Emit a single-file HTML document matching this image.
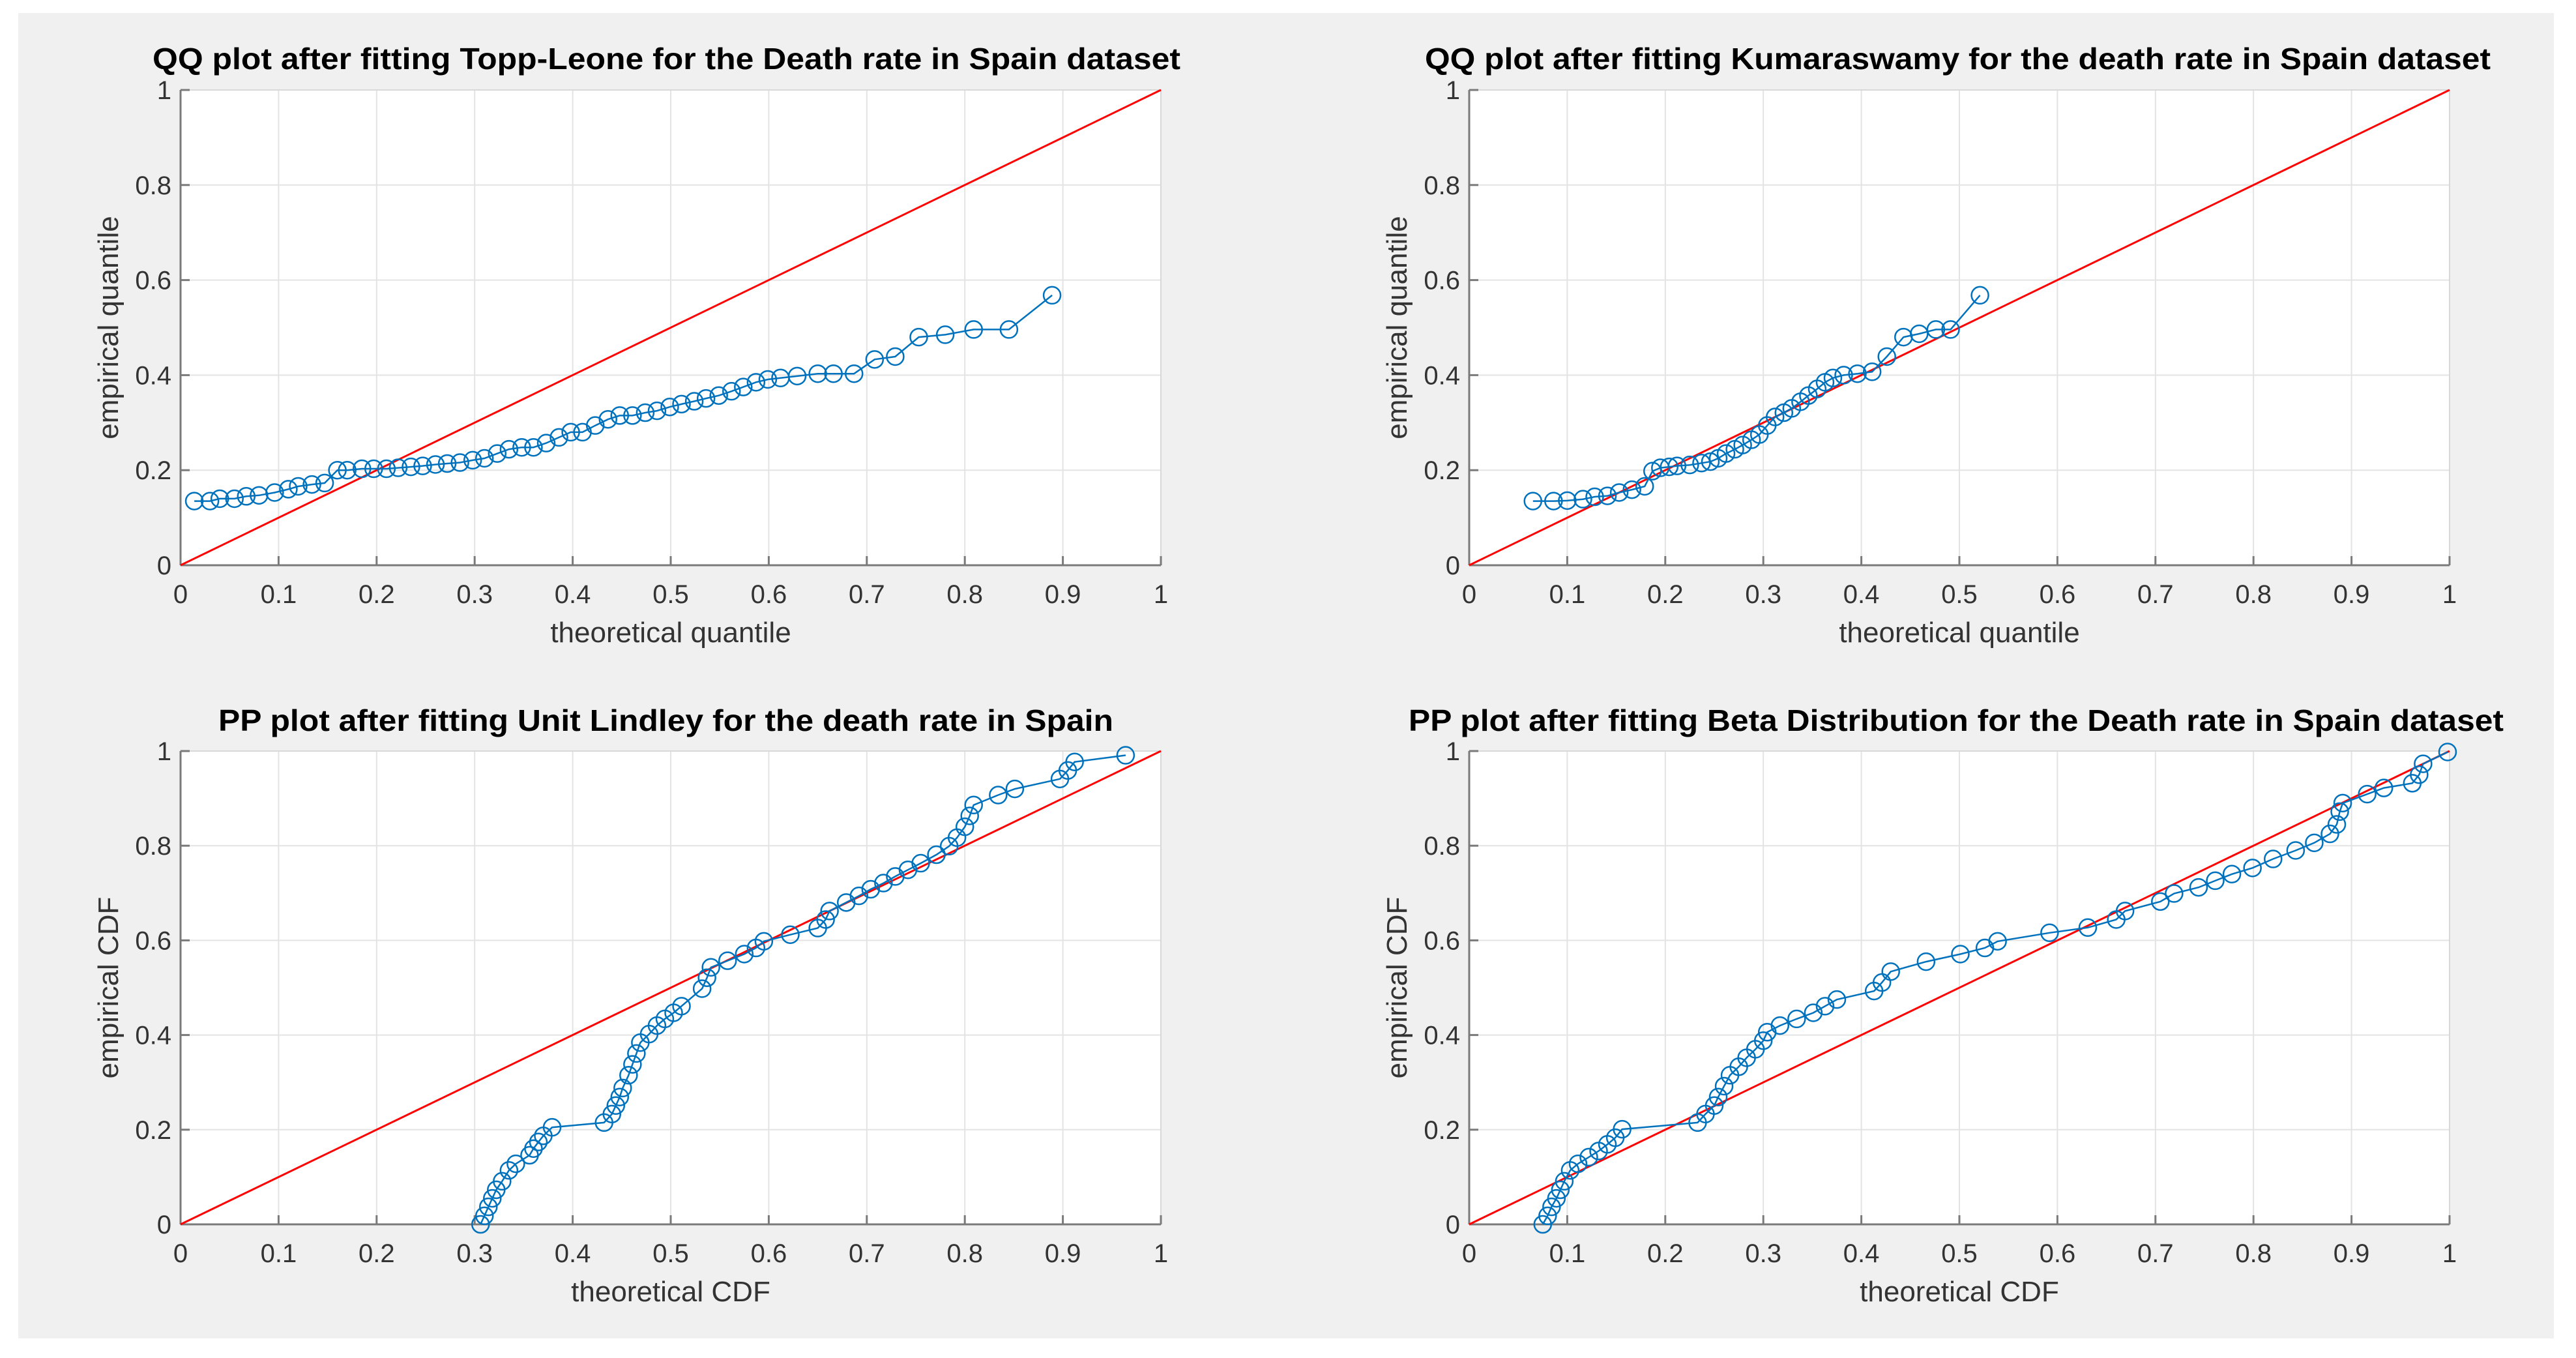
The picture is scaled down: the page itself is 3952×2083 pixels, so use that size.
<!DOCTYPE html>
<html><head><meta charset="utf-8"><style>
html,body{margin:0;padding:0;background:#fff;}
svg{display:block;}
</style></head><body>
<svg id="fig" width="3952" height="2083" viewBox="0 0 3952 2083" xmlns="http://www.w3.org/2000/svg">
<rect x="0" y="0" width="3952" height="2083" fill="#ffffff"/>
<rect x="28" y="20" width="3890" height="2033" fill="#f0f0f0"/>
</svg>
<script>
const ticks = [0,0.1,0.2,0.3,0.4,0.5,0.6,0.7,0.8,0.9,1];
const tickLabels = ["0","0.1","0.2","0.3","0.4","0.5","0.6","0.7","0.8","0.9","1"];
const yTicks = [0,0.2,0.4,0.6,0.8,1];
const yTickLabels = ["0","0.2","0.4","0.6","0.8","1"];

const toppX = [.014,.03,.04,.055,.067,.08,.096,.11,.12,.134,.147,.16,.17,.185,.197,.21,.222,.235,.247,.26,.272,.285,.298,.31,.323,.335,.348,.36,.373,.386,.398,.41,.423,.436,.448,.461,.474,.486,.499,.511,.524,.536,.549,.562,.574,.587,.599,.612,.629,.65,.666,.687,.708,.729,.753,.78,.809,.845,.889];
const toppY = [.135,.135,.14,.14,.145,.147,.153,.16,.166,.17,.173,.2,.2,.203,.203,.203,.205,.207,.209,.212,.214,.216,.221,.225,.235,.244,.248,.248,.257,.269,.28,.28,.294,.307,.315,.315,.321,.325,.333,.339,.345,.351,.357,.366,.375,.385,.391,.394,.398,.403,.403,.403,.433,.439,.48,.485,.496,.496,.568];

const kumX = [.065,.086,.1,.116,.128,.141,.153,.166,.179,.187,.195,.204,.212,.225,.237,.246,.254,.262,.271,.279,.288,.296,.304,.312,.321,.329,.338,.346,.355,.363,.371,.382,.396,.411,.426,.443,.459,.476,.491,.521];
const kumY = [.135,.135,.136,.139,.144,.146,.153,.159,.166,.198,.205,.207,.209,.211,.215,.218,.225,.235,.244,.253,.264,.275,.294,.312,.321,.33,.344,.357,.371,.385,.394,.4,.403,.407,.439,.48,.487,.496,.496,.568];

const lindX = [.306,.31,.314,.318,.322,.328,.335,.342,.356,.36,.365,.37,.379,.432,.44,.444,.448,.451,.457,.461,.465,.469,.478,.486,.494,.503,.511,.532,.537,.541,.558,.575,.587,.595,.622,.65,.658,.662,.679,.692,.704,.717,.729,.742,.755,.771,.784,.792,.8,.805,.809,.834,.851,.897,.905,.912,.964];
const lindY = [0,.018,.037,.055,.073,.091,.114,.128,.146,.16,.174,.187,.205,.215,.233,.251,.269,.288,.315,.338,.361,.384,.402,.42,.434,.447,.461,.498,.521,.543,.557,.571,.584,.598,.612,.626,.644,.662,.68,.694,.708,.721,.735,.749,.763,.781,.799,.817,.84,.863,.886,.907,.92,.941,.959,.977,.991];

const betaX = [.075,.08,.084,.089,.093,.097,.103,.111,.122,.132,.141,.149,.156,.233,.241,.25,.254,.26,.266,.275,.283,.292,.3,.304,.317,.334,.351,.363,.375,.413,.421,.43,.466,.501,.526,.539,.592,.631,.66,.669,.705,.719,.744,.761,.778,.799,.82,.843,.862,.878,.885,.888,.891,.916,.933,.962,.969,.973,.998];
const betaY = [0,.018,.037,.055,.073,.091,.114,.128,.142,.155,.169,.183,.201,.215,.233,.251,.269,.292,.315,.333,.352,.37,.388,.406,.42,.434,.447,.461,.475,.493,.511,.534,.555,.571,.584,.598,.616,.627,.644,.662,.682,.699,.712,.726,.74,.753,.772,.79,.806,.825,.845,.872,.89,.909,.922,.932,.95,.973,.998];

const NS='http://www.w3.org/2000/svg';
const svg=document.getElementById('fig');
function mk(tag,attrs,parent){const e=document.createElementNS(NS,tag);for(const k in attrs)e.setAttribute(k,attrs[k]);(parent||svg).appendChild(e);return e;}

const panels=[
 {id:'topp',x0:277,x1:1781,y0:138,y1:867,title:'QQ plot after fitting Topp-Leone  for the Death rate in Spain dataset',tx0:234,tx1:1811,ty:106,xl:'theoretical quantile',yl:'empirical quantile',X:toppX,Y:toppY},
 {id:'kum',x0:2254,x1:3758,y0:138,y1:867,title:'QQ plot after fitting Kumaraswamy  for the death rate in Spain dataset',tx0:2186,tx1:3821,ty:106,xl:'theoretical quantile',yl:'empirical quantile',X:kumX,Y:kumY},
 {id:'lindley',x0:277,x1:1781,y0:1152,y1:1878,title:'PP plot after fitting Unit Lindley  for the death rate in Spain',tx0:335,tx1:1708,ty:1121,xl:'theoretical CDF',yl:'empirical CDF',X:lindX,Y:lindY},
 {id:'beta',x0:2254,x1:3758,y0:1152,y1:1878,title:'PP plot after fitting Beta Distribution  for the Death rate in Spain dataset',tx0:2161,tx1:3841,ty:1121,xl:'theoretical CDF',yl:'empirical CDF',X:betaX,Y:betaY}
];

panels.forEach(p=>{
 const g=mk('g',{});
 
 
 const sx=v=>p.x0+v*(p.x1-p.x0);
 const sy=v=>p.y1-v*(p.y1-p.y0);
 const bg=mk('rect',{x:p.x0,y:p.y0,width:p.x1-p.x0,height:p.y1-p.y0,fill:'#ffffff'},g);
 
 
 ticks.forEach(t=>{
  const l=mk('line',{x1:sx(t),x2:sx(t),y1:p.y0,y2:p.y1,stroke:'#e3e3e3','stroke-width':2},g);
  
  
 });
 yTicks.forEach(t=>{
  const l=mk('line',{x1:p.x0,x2:p.x1,y1:sy(t),y2:sy(t),stroke:'#e3e3e3','stroke-width':2},g);
  
  
 });
 const box=mk('rect',{x:p.x0,y:p.y0,width:p.x1-p.x0,height:p.y1-p.y0,fill:'none',stroke:'#d8d8d8','stroke-width':2},g);
 
 
 const xa=mk('line',{x1:p.x0,x2:p.x1,y1:p.y1,y2:p.y1,stroke:'#7a7a7a','stroke-width':3},g);
 
 
 const ya=mk('line',{x1:p.x0,x2:p.x0,y1:p.y0,y2:p.y1,stroke:'#7a7a7a','stroke-width':3},g);
 
 
 ticks.forEach((t,i)=>{
  mk('line',{x1:sx(t),x2:sx(t),y1:p.y1,y2:p.y1-14,stroke:'#7a7a7a','stroke-width':3},g);
  const tx=mk('text',{x:sx(t),y:p.y1+58,'text-anchor':'middle','font-family':'Liberation Sans Narrow, Liberation Sans, sans-serif','font-size':40,fill:'#333'},g);
  
  
  tx.textContent=tickLabels[i];
 });
 yTicks.forEach((t,i)=>{
  mk('line',{x1:p.x0,x2:p.x0+14,y1:sy(t),y2:sy(t),stroke:'#7a7a7a','stroke-width':3},g);
  const ty=mk('text',{x:p.x0-14,y:sy(t)+14,'text-anchor':'end','font-family':'Liberation Sans Narrow, Liberation Sans, sans-serif','font-size':40,fill:'#333'},g);
  
  
  ty.textContent=yTickLabels[i];
 });
 const ref=mk('line',{x1:sx(0),y1:sy(0),x2:sx(1),y2:sy(1),stroke:'#ff0000','stroke-width':3},g);
 
 
 const pts=p.X.map((v,i)=>sx(v).toFixed(1)+','+sy(p.Y[i]).toFixed(1)).join(' ');
 const pl=mk('polyline',{points:pts,fill:'none',stroke:'#0072bd','stroke-width':2.5},g);
 
 
 p.X.forEach((v,i)=>{
  const c=mk('circle',{cx:sx(v),cy:sy(p.Y[i]),r:13,fill:'none',stroke:'#0072bd','stroke-width':2.5},g);
  
  
 });
 const ti=mk('text',{x:p.tx0,y:p.ty,'font-family':'Liberation Sans, sans-serif','font-weight':'bold','font-size':46,fill:'#000',textLength:p.tx1-p.tx0,lengthAdjust:'spacingAndGlyphs'},g);
 
 
 ti.textContent=p.title;
 const cx=(p.x0+p.x1)/2, cy=(p.y0+p.y1)/2;
 const xl=mk('text',{x:cx,y:p.y1+118,'text-anchor':'middle','font-family':'Liberation Sans, sans-serif','font-size':44,fill:'#333'},g);
 
 
 xl.textContent=p.xl;
 const yl=mk('text',{x:cx,y:0,'text-anchor':'middle','font-family':'Liberation Sans, sans-serif','font-size':44,fill:'#333',transform:'translate('+(p.x0-96)+','+cy+') rotate(-90)'},g);
 yl.setAttribute('x',0);
 
 
 yl.textContent=p.yl;
});
</script>
</body></html>
